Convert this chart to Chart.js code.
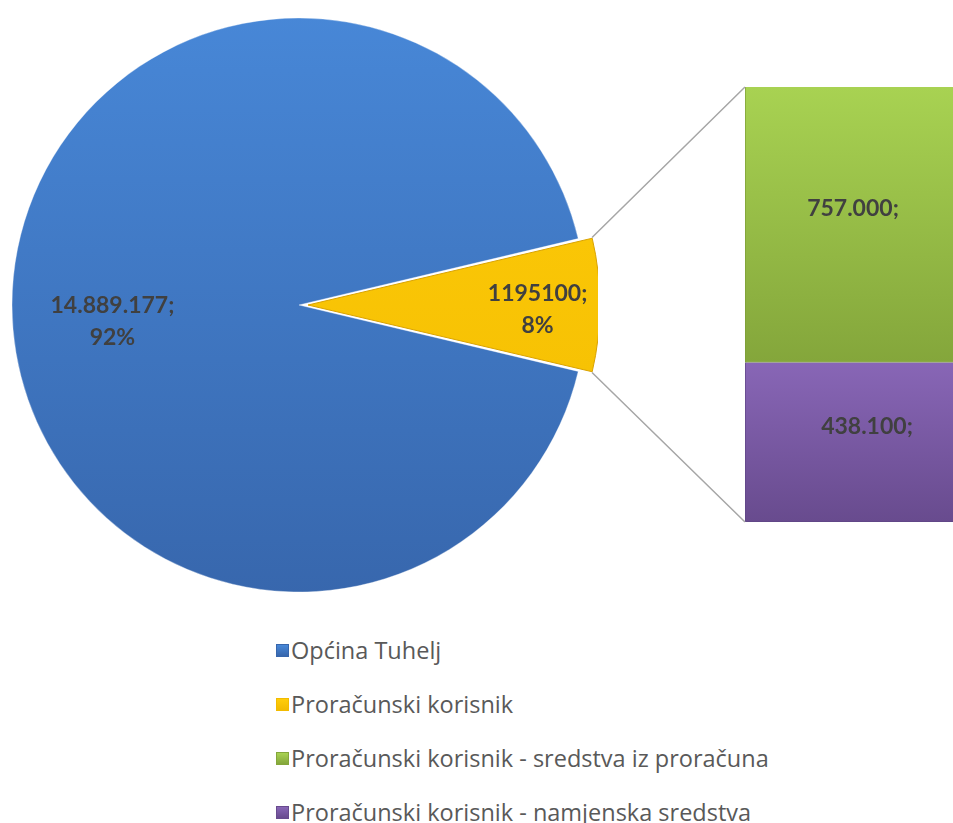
<!DOCTYPE html>
<html>
<head>
<meta charset="utf-8">
<script src="https://cdn.jsdelivr.net/npm/chart.js@4/dist/chart.umd.min.js"></script>
<style>
  html, body { margin: 0; padding: 0; background: #fff; }
  #wrap { position: relative; width: 953px; height: 823px; overflow: hidden; }
  #pieChart { position: absolute; left: 0; top: 0; }
  #barChart { position: absolute; left: 0; top: 0; }
  #legend { position: absolute; left: 276px; top: 623px; font-family: "Open Sans", sans-serif; font-size: 23.5px; color: #595959; }
  .item { height: 54px; display: flex; align-items: center; white-space: nowrap; }
  .box { width: 13px; height: 13px; margin-right: 2px; box-sizing: border-box; }
</style>
</head>
<body>
<div id="wrap">
  <canvas id="pieChart" width="598" height="610"></canvas>
  <canvas id="barChart" width="953" height="610"></canvas>
  <div id="legend"></div>
</div>
<script>
const categories = ['Općina Tuhelj', 'Proračunski korisnik', 'Proračunski korisnik - sredstva iz proračuna', 'Proračunski korisnik - namjenska sredstva'];
const pieValues = [14889177, 1195100];
const pieValueLabels = ['14.889.177;', '1195100;'];
const piePctLabels = ['92%', '8%'];
const barValues = [757000, 438100];
const barValueLabels = ['757.000;', '438.100;'];

// colours: [top, bottom]
const shades = [
  ['#4888d8', '#3766ac'],
  ['#ffcd0a', '#f2bb00'],
  ['#a8d252', '#84a63b'],
  ['#8866b6', '#684b8e']
];

const labelFont = 'bold 23px Lato, sans-serif';
const labelColor = '#404040';

function vGrad(ctx, top, bottom, pair) {
  const g = ctx.createLinearGradient(0, top, 0, bottom);
  g.addColorStop(0, pair[0]);
  g.addColorStop(1, pair[1]);
  return g;
}

const pieTotal = pieValues.reduce((s, v) => s + v, 0);
// put the middle of the small slice at 3 o'clock
const rotation = 90 - 360 * (pieValues[0] + pieValues[1] / 2) / pieTotal;

const pieLabelPlugin = {
  id: 'pieLabels',
  afterDatasetsDraw(chart) {
    const ctx = chart.ctx;
    const place = [{ k: 0.65, dy: 17 }, { k: 0.80, dy: 5 }];
    chart.getDatasetMeta(0).data.forEach((el, i) => {
      const mid = (el.startAngle + el.endAngle) / 2;
      const off = (el.options.offset || 0) / 4;
      const cx = el.x + Math.cos(mid) * off;
      const cy = el.y + Math.sin(mid) * off;
      const x = cx + Math.cos(mid) * el.outerRadius * place[i].k;
      const y = cy + Math.sin(mid) * el.outerRadius * place[i].k + place[i].dy;
      ctx.save();
      ctx.font = labelFont;
      ctx.fillStyle = labelColor;
      ctx.textAlign = 'center';
      ctx.textBaseline = 'middle';
      ctx.fillText(pieValueLabels[i], x, y - 16);
      ctx.fillText(piePctLabels[i], x, y + 16);
      ctx.restore();
    });
  }
};

const pieChart = new Chart(document.getElementById('pieChart'), {
  type: 'pie',
  data: {
    labels: categories.slice(0, 2),
    datasets: [{
      data: pieValues,
      backgroundColor: c => {
        const a = c.chart.chartArea;
        const pair = shades[c.dataIndex];
        if (!a) return pair[0];
        return vGrad(c.chart.ctx, a.top, a.bottom, pair);
      },
      borderColor: ['rgba(255,255,255,0.35)', '#d9a200'],
      borderWidth: 1,
      offset: [0, 36]
    }]
  },
  options: {
    responsive: false,
    animation: false,
    rotation: rotation,
    radius: 287,
    layout: { padding: 0 },
    plugins: { legend: { display: false }, tooltip: { enabled: false } }
  },
  plugins: [pieLabelPlugin]
});

const connectorPlugin = {
  id: 'connectors',
  afterDatasetsDraw(chart) {
    const ctx = chart.ctx;
    const el = pieChart.getDatasetMeta(0).data[1];
    const mid = (el.startAngle + el.endAngle) / 2;
    const off = (el.options.offset || 0) / 4;
    const fix = 1 - Math.sin(Math.min(Math.PI, el.circumference));
    const R = el.outerRadius + off * fix;
    const cx = el.x + Math.cos(mid) * off;
    const cy = el.y + Math.sin(mid) * off;
    const p1 = [cx + Math.cos(el.startAngle) * R, cy + Math.sin(el.startAngle) * R];
    const p2 = [cx + Math.cos(el.endAngle) * R, cy + Math.sin(el.endAngle) * R];
    const top = chart.getDatasetMeta(1).data[0];
    const bottom = chart.getDatasetMeta(0).data[0];
    const left = top.x - top.width / 2;
    ctx.save();
    ctx.strokeStyle = '#a6a6a6';
    ctx.lineWidth = 1.5;
    ctx.beginPath();
    ctx.moveTo(p1[0], p1[1]);
    ctx.lineTo(left, top.y);
    ctx.moveTo(p2[0], p2[1]);
    ctx.lineTo(left, bottom.base);
    ctx.stroke();

    // value labels on the stacked bar
    ctx.font = labelFont;
    ctx.fillStyle = labelColor;
    ctx.textAlign = 'center';
    ctx.textBaseline = 'middle';
    [1, 0].forEach(di => {
      const b = chart.getDatasetMeta(di).data[0];
      const idx = di === 1 ? 0 : 1;
      const shift = di === 1 ? 4 : 18;
      ctx.fillText(barValueLabels[idx], b.x + shift, (b.y + b.base) / 2 - 16);
    });
    ctx.restore();
  }
};

function barColor(pair, from, to) {
  return c => {
    const ys = c.chart.scales.y;
    if (!ys || !c.chart.chartArea) return pair[0];
    return vGrad(c.chart.ctx, ys.getPixelForValue(to), ys.getPixelForValue(from), pair);
  };
}

new Chart(document.getElementById('barChart'), {
  type: 'bar',
  data: {
    labels: [''],
    datasets: [
      {
        label: categories[3],
        data: [barValues[1]],
        backgroundColor: barColor(shades[3], 0, barValues[1]),
        borderColor: '#5e4585',
        borderWidth: { top: 0, left: 1, right: 0, bottom: 1 },
        borderSkipped: false,
        barPercentage: 1,
        categoryPercentage: 1
      },
      {
        label: categories[2],
        data: [barValues[0]],
        backgroundColor: barColor(shades[2], barValues[1], barValues[1] + barValues[0]),
        borderColor: '#7c9c36',
        borderWidth: { top: 0, left: 1, right: 0, bottom: 1 },
        borderSkipped: false,
        barPercentage: 1,
        categoryPercentage: 1
      }
    ]
  },
  options: {
    responsive: false,
    animation: false,
    layout: { padding: { left: 745, right: 0, top: 87, bottom: 88 } },
    scales: {
      x: { display: false, stacked: true },
      y: { display: false, stacked: true, min: 0, max: barValues[0] + barValues[1] }
    },
    plugins: { legend: { display: false }, tooltip: { enabled: false } }
  },
  plugins: [connectorPlugin]
});

// legend
const legend = document.getElementById('legend');
categories.forEach((name, i) => {
  const row = document.createElement('div');
  row.className = 'item';
  const box = document.createElement('span');
  box.className = 'box';
  box.style.background = `linear-gradient(${shades[i][0]}, ${shades[i][1]})`;
  box.style.border = `1px solid ${shades[i][1]}`;
  const txt = document.createElement('span');
  txt.textContent = name;
  row.appendChild(box);
  row.appendChild(txt);
  legend.appendChild(row);
});
</script>
</body>
</html>
